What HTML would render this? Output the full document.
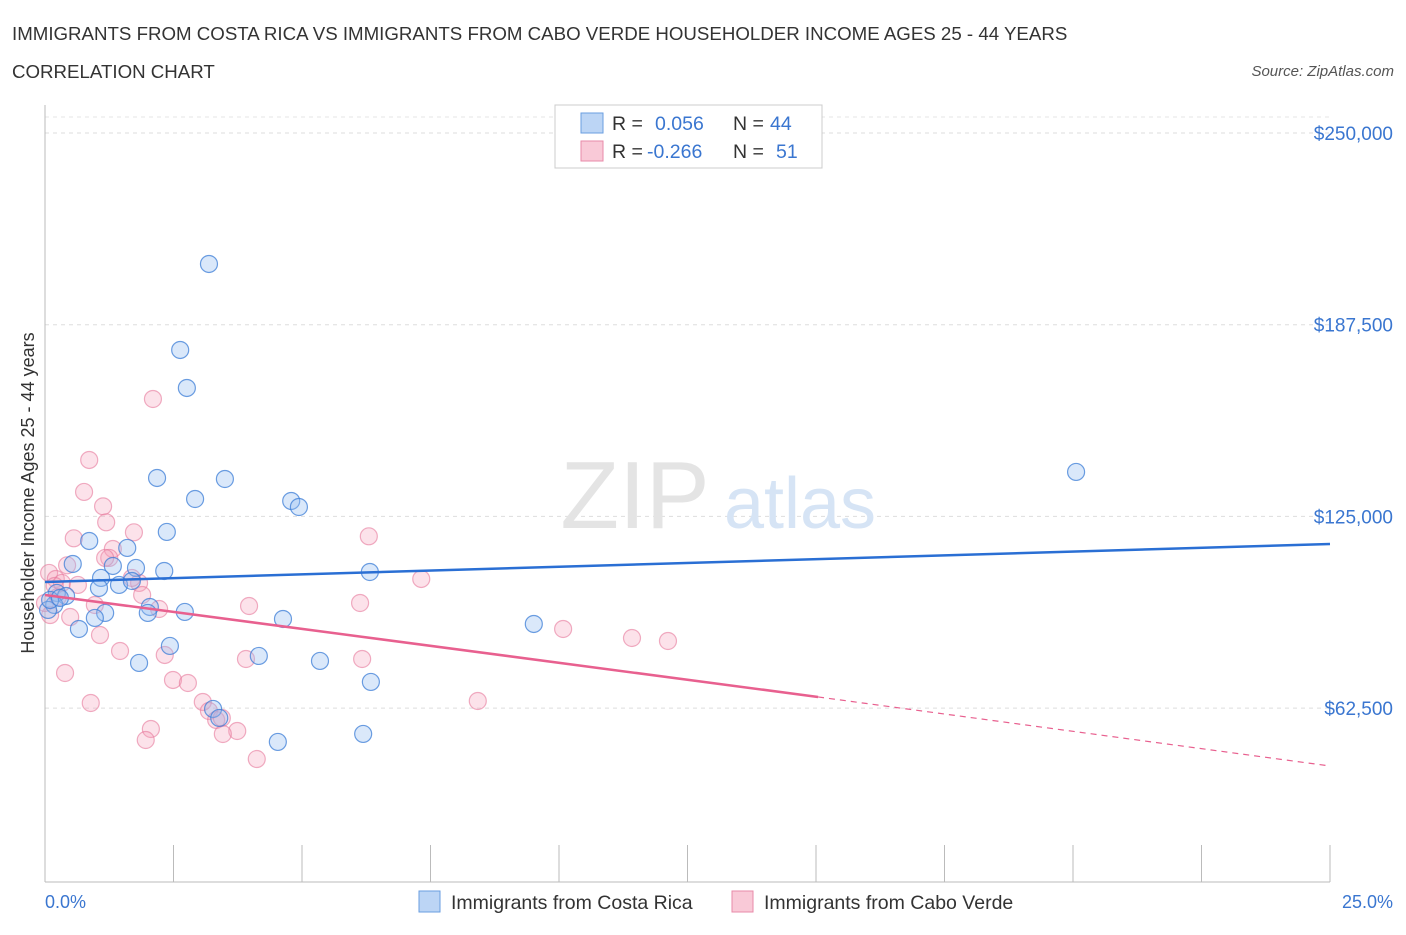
<!DOCTYPE html>
<html><head><meta charset="utf-8"><style>
body{margin:0;background:#fff;font-family:"Liberation Sans",sans-serif;}
svg text{font-family:"Liberation Sans",sans-serif;}
</style></head><body>
<svg width="1406" height="930" viewBox="0 0 1406 930">
<text x="12" y="40" font-size="18.7" fill="#333">IMMIGRANTS FROM COSTA RICA VS IMMIGRANTS FROM CABO VERDE HOUSEHOLDER INCOME AGES 25 - 44 YEARS</text>
<text x="12" y="78" font-size="18.7" fill="#333">CORRELATION CHART</text>
<text x="1394" y="76" font-size="15" fill="#555" font-style="italic" text-anchor="end">Source: ZipAtlas.com</text>
<g id="grid"></g>
<text x="635" y="528" font-size="96" fill="#e4e4e4" font-family="Liberation Serif" text-anchor="middle">ZIP</text>
<text x="800" y="528" font-size="72" fill="#d6e4f5" text-anchor="middle">atlas</text>
<g id="points"></g>
<g id="lines"></g>
<text transform="translate(34,493) rotate(-90)" font-size="18" fill="#333" text-anchor="middle">Householder Income Ages 25 - 44 years</text>
<text x="45" y="908" font-size="18" fill="#3a76d0">0.0%</text>
<text x="1393" y="908" font-size="18" fill="#3a76d0" text-anchor="end">25.0%</text>
<g>
<rect x="555" y="105" width="267" height="63" fill="#fff" stroke="#ccc"/>
<rect x="581" y="113" width="22" height="20" fill="#bcd5f5" stroke="#6a9ee0"/>
<rect x="581" y="141" width="22" height="20" fill="#f9c9d7" stroke="#e88aa8"/>
<text x="612" y="130" font-size="19.5" fill="#333">R = <tspan fill="#3a76d0" x="655">0.056</tspan><tspan x="733" fill="#333">N = </tspan><tspan fill="#3a76d0" x="770">44</tspan></text>
<text x="612" y="158" font-size="19.5" fill="#333">R = <tspan fill="#3a76d0" x="647">-0.266</tspan><tspan x="733" fill="#333">N = </tspan><tspan fill="#3a76d0" x="776">51</tspan></text>
</g>
<g>
<rect x="419" y="891" width="21" height="21" fill="#bcd5f5" stroke="#6a9ee0"/>
<text x="451" y="909" font-size="19.5" fill="#333">Immigrants from Costa Rica</text>
<rect x="732" y="891" width="21" height="21" fill="#f9c9d7" stroke="#e88aa8"/>
<text x="764" y="909" font-size="19.5" fill="#333">Immigrants from Cabo Verde</text>
</g>
</svg>
<script>
const yTicks=[62500,125000,187500,250000];
const yTickLabels=["$62,500","$125,000","$187,500","$250,000"];
const xTicks=[0,2.5,5,7.5,10,12.5,15,17.5,20,22.5,25];
const blueX=[3.19,2.63,2.76,2.18,3.50,2.92,4.79,4.94,20.06,2.37,0.86,1.60,0.54,1.32,1.77,2.32,1.09,6.32,1.44,1.69,1.05,0.23,0.41,0.18,0.06,2.04,2.72,1.17,2.00,0.97,4.63,9.51,0.66,2.43,4.16,1.83,5.35,6.34,3.27,3.39,4.53,6.19,0.10,0.29];
const blueY=[207300,179260,166870,137530,137200,130680,130030,128070,139490,119930,116990,114710,109490,108840,108190,107210,104930,106880,102650,103950,101670,100040,99060,96130,94500,95470,93850,93520,93520,91890,91560,89930,88300,82760,79500,77220,77870,71030,62220,59290,51470,54080,97760,98410];
const pinkX=[2.10,0.86,0.76,1.13,1.19,1.73,0.56,6.30,0.43,1.32,1.25,0.08,0.21,0.33,0.64,1.83,7.32,1.89,0.97,3.97,6.13,2.22,0.49,0.10,1.07,10.08,11.42,12.12,1.46,2.33,3.91,6.17,0.39,2.49,2.78,0.89,3.07,8.42,3.19,3.33,3.44,2.06,3.74,3.46,1.96,4.12,0.19,1.17,1.69,0.0,0.25];
const pinkY=[163280,143400,132970,128280,123070,119810,117850,118500,109050,114380,111450,106560,104600,103300,102650,103300,104600,99380,96120,95790,96770,94810,92200,92850,86330,88290,85360,84380,81120,79820,78510,78510,73950,71670,70690,64170,64500,64820,61560,58630,59280,55690,55040,54060,52100,45900,102320,111450,104930,96770,98730];
const blueTrend=[[0,103630],[25,116020]];
const pinkTrend=[[0,99380],[15.04,66130],[25,43630]];
const NS="http://www.w3.org/2000/svg";
function sx(v){return 45+v/25*1285;}
function sy(v){return 133+(250000-v)/62500*191.7;}
function mk(t,a,p){const e=document.createElementNS(NS,t);for(const k in a)e.setAttribute(k,a[k]);p.appendChild(e);return e;}
const grid=document.getElementById('grid');
yTicks.forEach((t,i)=>{
 const l=mk('line',{x1:45,x2:1330,y1:sy(t),y2:sy(t),stroke:'#ddd','stroke-dasharray':'4,4'},grid);
 
 
 const tx=mk('text',{x:1393,y:sy(t)+7,'font-size':19,fill:'#3a76d0','text-anchor':'end'},grid);
 tx.textContent=yTickLabels[i];
 
 
});
mk('line',{x1:45,x2:1330,y1:117,y2:117,stroke:'#e6e6e6','stroke-dasharray':'4,4'},grid);
mk('line',{x1:45,x2:45,y1:105,y2:882,stroke:'#bbb'},grid);
mk('line',{x1:45,x2:1330,y1:882,y2:882,stroke:'#bbb'},grid);
xTicks.forEach(t=>{const l=mk('line',{x1:sx(t),x2:sx(t),y1:845,y2:882,stroke:'#bbb'},grid);
 
 });
const pts=document.getElementById('points');
pinkX.forEach((x,i)=>{const c=mk('circle',{cx:sx(x),cy:sy(pinkY[i]),r:8.5,fill:'rgba(245,160,185,0.3)',stroke:'rgba(230,120,155,0.6)','stroke-width':1.2},pts);
 
 });
blueX.forEach((x,i)=>{const c=mk('circle',{cx:sx(x),cy:sy(blueY[i]),r:8.5,fill:'rgba(150,190,240,0.35)',stroke:'rgba(60,125,215,0.75)','stroke-width':1.2},pts);
 
 });
const ln=document.getElementById('lines');
const b=mk('line',{x1:sx(blueTrend[0][0]),y1:sy(blueTrend[0][1]),x2:sx(blueTrend[1][0]),y2:sy(blueTrend[1][1]),stroke:'#2a6fd4','stroke-width':2.5},ln);


const p1=mk('line',{x1:sx(pinkTrend[0][0]),y1:sy(pinkTrend[0][1]),x2:sx(pinkTrend[1][0]),y2:sy(pinkTrend[1][1]),stroke:'#e8608f','stroke-width':2.5},ln);


const p2=mk('line',{x1:sx(pinkTrend[1][0]),y1:sy(pinkTrend[1][1]),x2:sx(pinkTrend[2][0]),y2:sy(pinkTrend[2][1]),stroke:'#e8608f','stroke-width':1.2,'stroke-dasharray':'6,5'},ln);


</script>
</body></html>
